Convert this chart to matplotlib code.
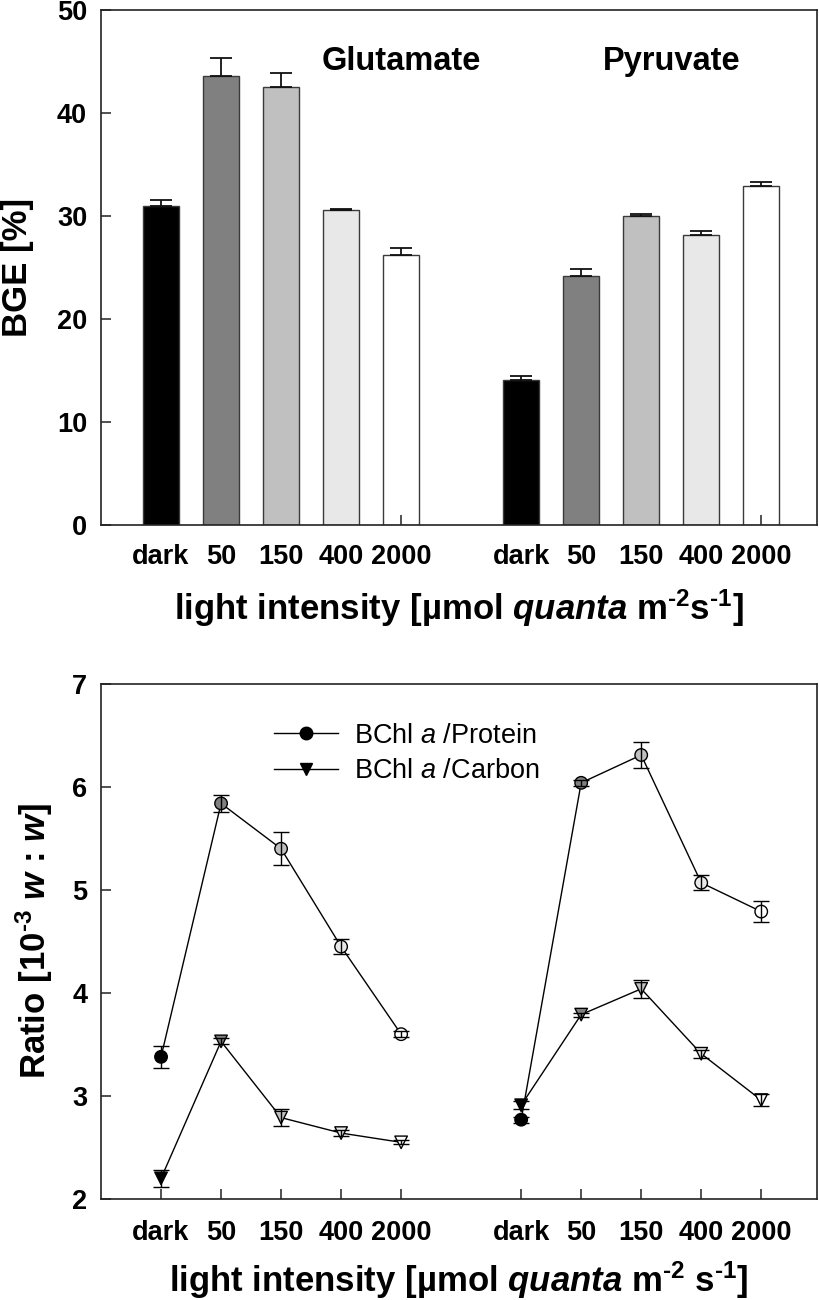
import numpy as np
import matplotlib
matplotlib.use("Agg")
import matplotlib.pyplot as plt
from matplotlib.lines import Line2D

FONT = 'Liberation Sans'
plt.rcParams['font.family'] = [FONT, 'DejaVu Sans']
plt.rcParams['mathtext.fontset'] = 'custom'
plt.rcParams['mathtext.default'] = 'regular'
plt.rcParams['mathtext.rm'] = FONT
plt.rcParams['mathtext.bf'] = FONT + ':bold'
plt.rcParams['mathtext.it'] = FONT + ':italic'
plt.rcParams['mathtext.bfit'] = FONT + ':italic:bold'
plt.rcParams['mathtext.fallback'] = 'stixsans'

### DATA ###
light = ['dark', '50', '150', '400', '2000']
shades = ['#000000', '#808080', '#c0c0c0', '#e8e8e8', 'none']

# BGE [%], upper panel
bge_glu = [31.0, 43.6, 42.5, 30.6, 26.2]
bge_glu_err = [0.5, 1.7, 1.4, 0.1, 0.7]
bge_pyr = [14.1, 24.2, 30.0, 28.1, 32.9]
bge_pyr_err = [0.4, 0.6, 0.2, 0.4, 0.4]

# BChl a ratios [10^-3 w:w], lower panel
prot_glu = [3.38, 5.84, 5.40, 4.45, 3.60]
prot_glu_err = [0.11, 0.08, 0.16, 0.07, 0.03]
carb_glu = [2.20, 3.53, 2.79, 2.64, 2.55]
carb_glu_err = [0.08, 0.03, 0.085, 0.03, 0.02]
prot_pyr = [2.77, 6.04, 6.31, 5.07, 4.79]
prot_pyr_err = [0.03, 0.03, 0.13, 0.075, 0.10]
carb_pyr = [2.91, 3.79, 4.04, 3.41, 2.96]
carb_pyr_err = [0.04, 0.02, 0.085, 0.04, 0.06]

pos_glu = np.arange(5)
pos_pyr = np.arange(5) + 6
ticks = np.concatenate([pos_glu, pos_pyr])
ticklabels = light + light

HY = '\u2010'  # short hyphen for the exponents, like the original

fig = plt.figure(figsize=(8.2, 13), dpi=100)

def style_axes(ax):
    for s in ax.spines.values():
        s.set_linewidth(1.2)
        s.set_color('#222222')
    ax.set_xlim(-1, 10.93)
    ax.set_xticks(ticks)
    ax.set_xticklabels(ticklabels, fontsize=19.5, fontweight='bold')
    ax.tick_params(direction='in', length=7, width=1.1, color='#222222')
    ax.tick_params(axis='x', pad=14)
    ax.tick_params(axis='y', pad=10, labelsize=19.5)
    for t in ax.get_yticklabels():
        t.set_fontweight('bold')

################# TOP : BGE #################
ax1 = fig.add_axes([0.1232, 0.5962, 0.8732, 0.3962])
ax1.set_axisbelow(True)
for xs, vals, errs in ((pos_glu, bge_glu, bge_glu_err), (pos_pyr, bge_pyr, bge_pyr_err)):
    ax1.bar(xs, vals, width=0.6, color=shades, edgecolor='#3a3a3a', linewidth=1.0,
            yerr=[np.zeros(len(errs)), errs], capsize=8,
            error_kw=dict(elinewidth=1.3, capthick=1.3, ecolor='#111111'))
ax1.set_ylim(0, 50)
ax1.set_yticks([0, 10, 20, 30, 40, 50])
style_axes(ax1)
ax1.text(4.0, 45.0, 'Glutamate', fontsize=23.5, fontweight='bold', ha='center', va='center')
ax1.text(8.5, 45.0, 'Pyruvate', fontsize=23.5, fontweight='bold', ha='center', va='center')
ax1.set_xlabel(r'light intensity [µmol $\mathbfit{quanta}$ m$^{' + HY + r'2}$s$^{' + HY + r'1}$]',
               fontsize=25, fontweight='bold', labelpad=12)
ax1.set_ylabel('BGE [%]', fontsize=25, fontweight='bold')
ax1.yaxis.set_label_coords(-0.093, 0.5)

################# BOTTOM : BChl a ratios #################
ax2 = fig.add_axes([0.1232, 0.0777, 0.8732, 0.3962])
ms = 9
face = ['#000000', '#808080', '#c0c0c0', '#e8e8e8', '#ffffff']
for xs, prot, perr, carb, cerr in ((pos_glu, prot_glu, prot_glu_err, carb_glu, carb_glu_err),
                                   (pos_pyr, prot_pyr, prot_pyr_err, carb_pyr, carb_pyr_err)):
    ax2.plot(xs, prot, color='black', lw=1.0, zorder=2)
    ax2.plot(xs, carb, color='black', lw=1.0, zorder=2)
    ax2.scatter(xs, prot, s=ms ** 2, marker='o', c=face, edgecolors='black', linewidths=1.0, zorder=3)
    ax2.scatter(xs, carb, s=ms ** 2, marker='v', c=face, edgecolors='black', linewidths=1.0, zorder=3)
    ax2.errorbar(xs, prot, yerr=perr, fmt='none', ecolor='black', elinewidth=1.0, capsize=6, capthick=1.0, zorder=4)
    ax2.errorbar(xs, carb, yerr=cerr, fmt='none', ecolor='black', elinewidth=1.0, capsize=6, capthick=1.0, zorder=4)

ax2.set_ylim(2, 7)
ax2.set_yticks([2, 3, 4, 5, 6, 7])
style_axes(ax2)
ax2.tick_params(axis='x', pad=15)
ax2.set_xlabel(r'light intensity [µmol $\mathbfit{quanta}$ m$^{' + HY + r'2}$ s$^{' + HY + r'1}$]',
               fontsize=25, fontweight='bold', labelpad=10)
ax2.set_ylabel(r'Ratio [10$^{' + HY + r'3}$ $\mathbfit{w}$ : $\mathbfit{w}$]', fontsize=25, fontweight='bold')
ax2.yaxis.set_label_coords(-0.064, 0.5)

handles = [Line2D([], [], color='black', lw=1.0, marker='o', ms=ms, mfc='black', mec='black'),
           Line2D([], [], color='black', lw=1.0, marker='v', ms=ms, mfc='black', mec='black')]
ax2.legend(handles, [r'BChl $\mathit{a}$ /Protein', r'BChl $\mathit{a}$ /Carbon'],
           loc='upper left', bbox_to_anchor=(0.2416, 0.925), frameon=False,
           fontsize=19.5, handlelength=2.35, handletextpad=0.6, labelspacing=0.35,
           borderpad=0, borderaxespad=0)

fig.savefig('out.png', dpi=100)
